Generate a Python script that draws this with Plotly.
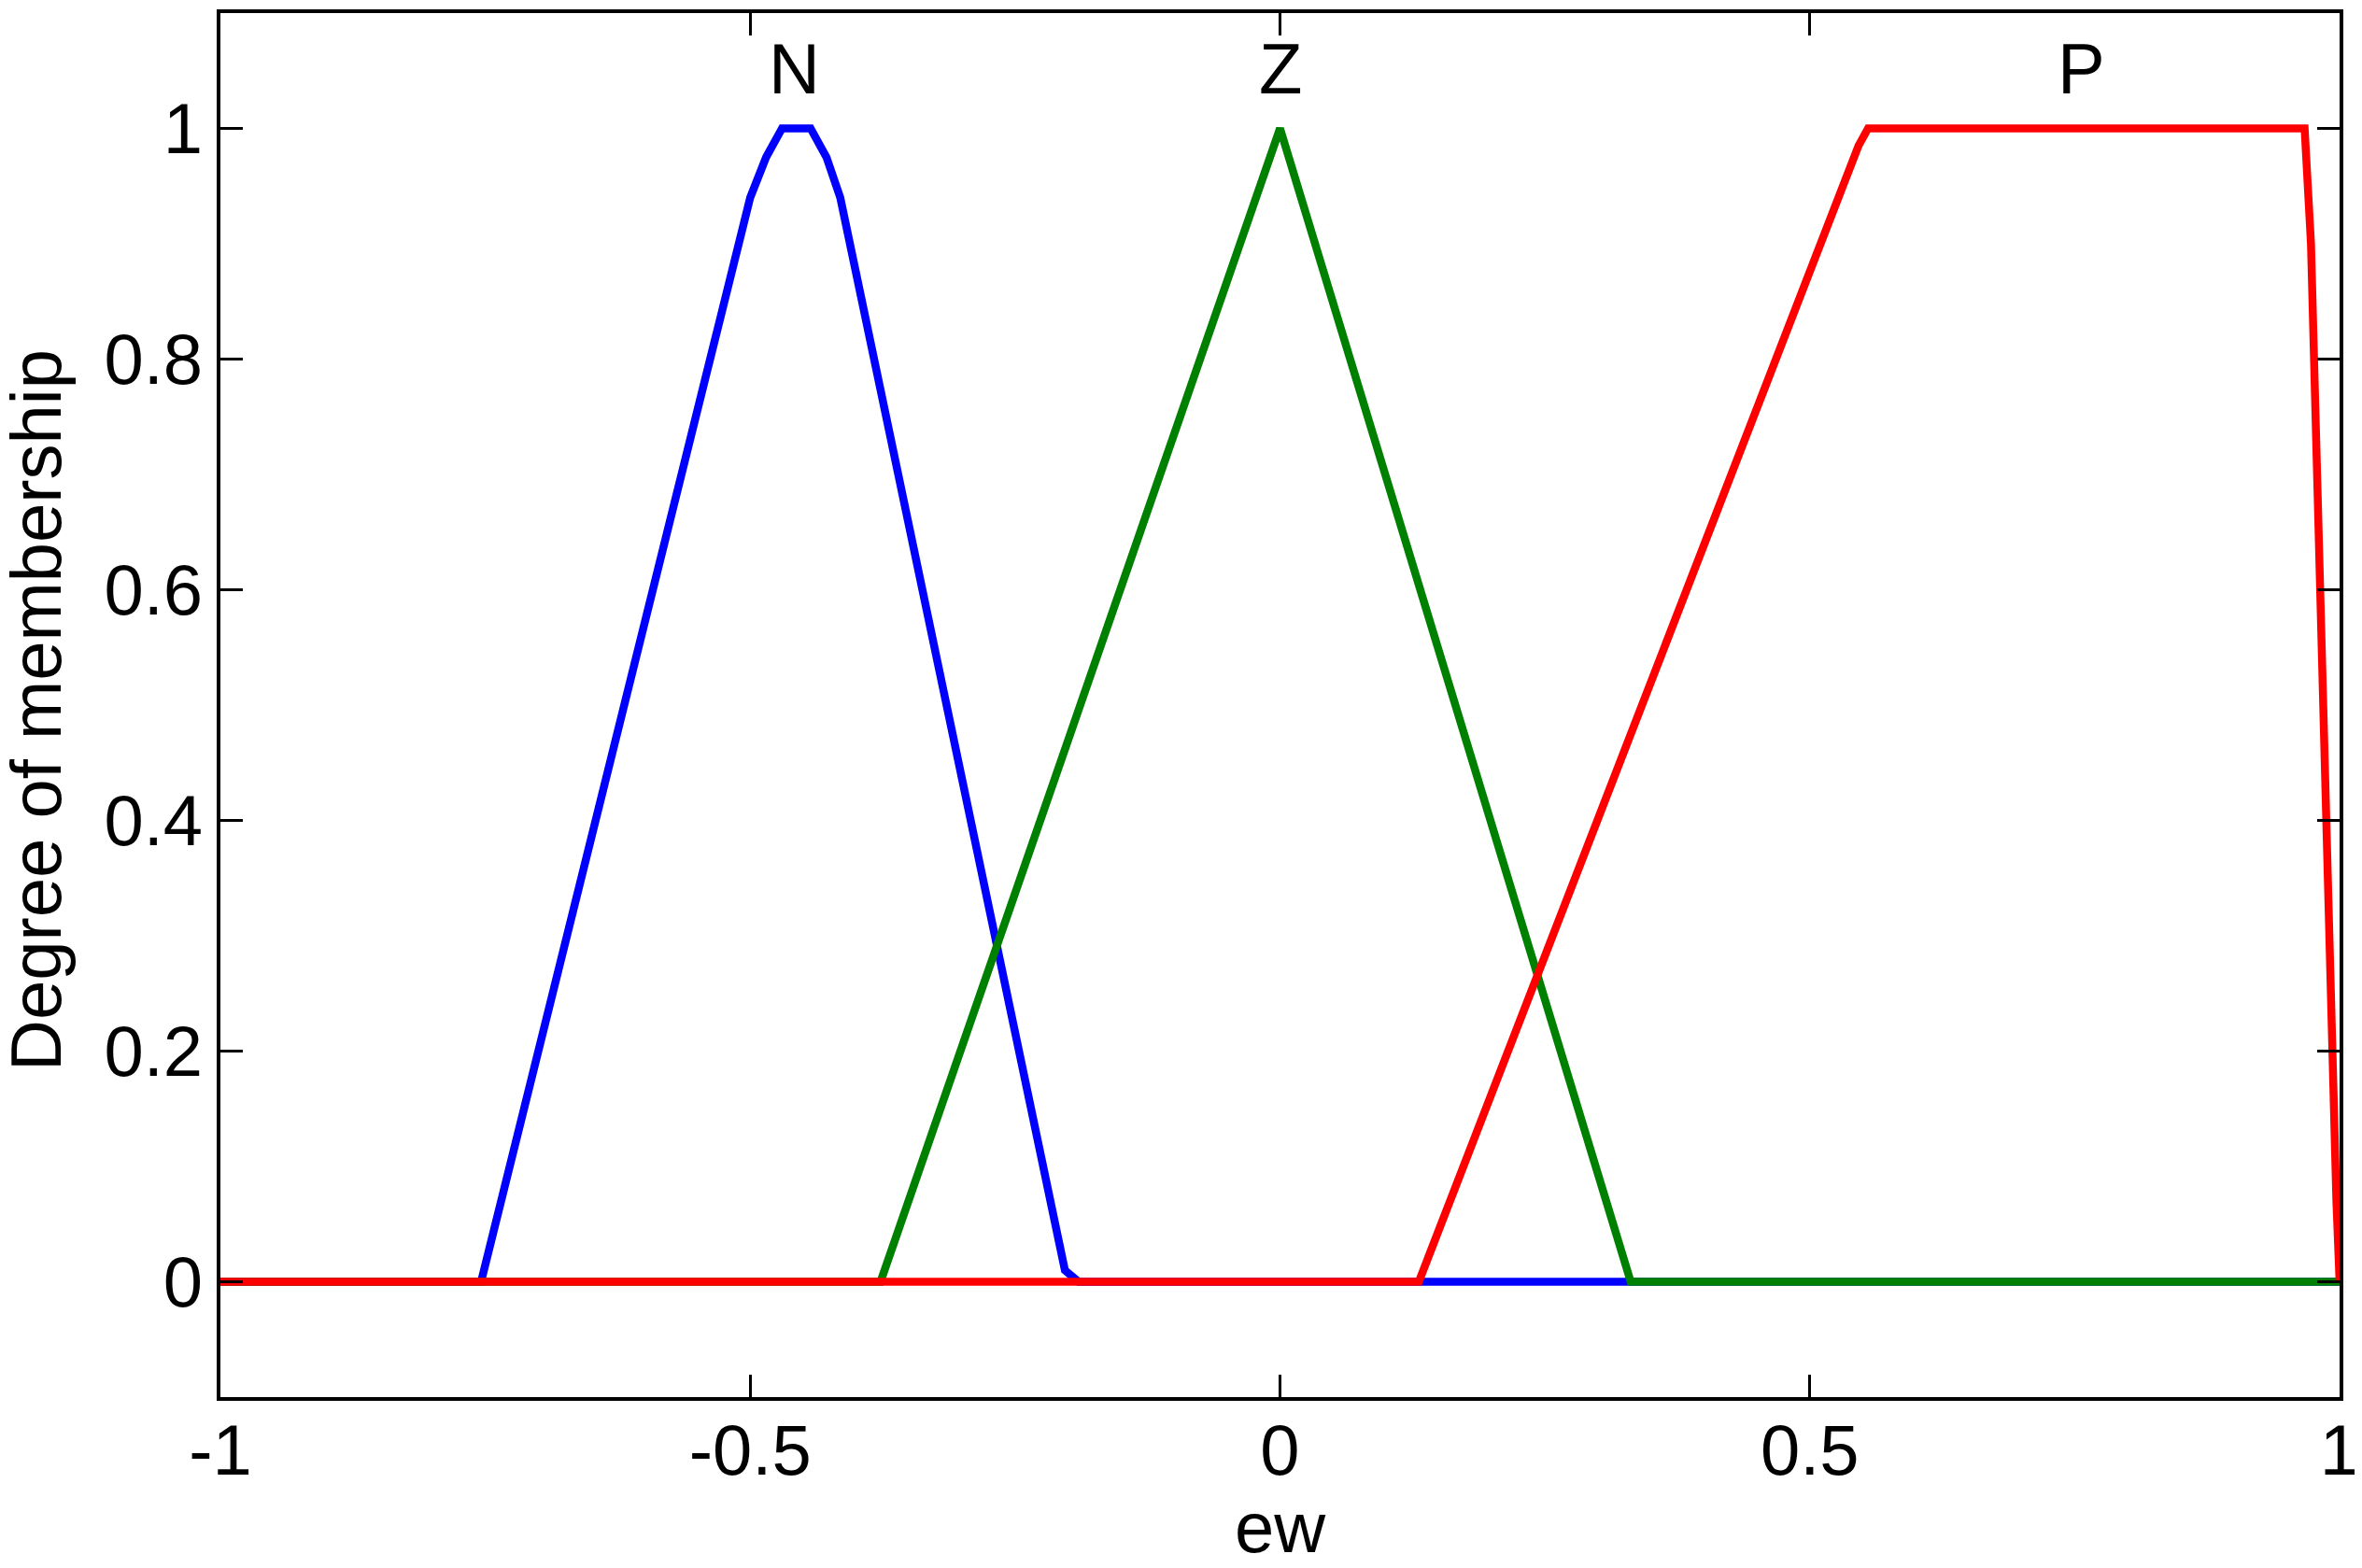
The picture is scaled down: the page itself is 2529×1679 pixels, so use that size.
import plotly.graph_objects as go

# Membership functions
n_x = [-1.0, -0.754, -0.50, -0.485, -0.470, -0.443, -0.428, -0.415, -0.203, -0.190, 1.0]
n_y = [0.0, 0.0, 0.94, 0.975, 1.0, 1.0, 0.975, 0.94, 0.01, 0.0, 0.0]

z_x = [-1.0, -0.377, 0.0, 0.331, 1.0]
z_y = [0.0, 0.0, 1.0, 0.0, 0.0]

p_x = [-1.0, 0.131, 0.546, 0.555, 0.967, 0.973, 0.997, 1.0]
p_y = [0.0, 0.0, 0.985, 1.0, 1.0, 0.90, 0.07, 0.0]

mf_names = ["N", "Z", "P"]
mf_label_x = [-0.4585, 0.0, 0.756]
mf_label_y = [1.052, 1.052, 1.052]

x_ticks = [-1, -0.5, 0, 0.5, 1]
x_tick_text = ["-1", "-0.5", "0", "0.5", "1"]
y_ticks = [0, 0.2, 0.4, 0.6, 0.8, 1]
y_tick_text = ["0", "0.2", "0.4", "0.6", "0.8", "1"]

x_title = "ew"
y_title = "Degree of membership"

FONT = "Liberation Sans, Arial, Helvetica, sans-serif"
LW = 8.5

fig = go.Figure()
fig.add_trace(go.Scatter(x=n_x, y=n_y, mode="lines", line=dict(color="#0000FF", width=LW), name="N"))
fig.add_trace(go.Scatter(x=z_x, y=z_y, mode="lines", line=dict(color="#008000", width=LW), name="Z"))
fig.add_trace(go.Scatter(x=p_x, y=p_y, mode="lines", line=dict(color="#FF0000", width=LW), name="P"))

for name, lx, ly in zip(mf_names, mf_label_x, mf_label_y):
    fig.add_annotation(x=lx, y=ly, text=name, showarrow=False, xanchor="center", yanchor="middle",
                       font=dict(family=FONT, size=76, color="black"))

# axis titles as annotations (placed close to the page edges like the original)
fig.add_annotation(xref="paper", yref="paper", x=0.5, y=0, yshift=-139, text=x_title,
                   showarrow=False, xanchor="center", yanchor="middle",
                   font=dict(family=FONT, size=76, color="black"))
fig.add_annotation(xref="paper", yref="paper", x=0, y=0.5, xshift=-198, yshift=-6, text=y_title,
                   textangle=-90, showarrow=False, xanchor="center", yanchor="middle",
                   font=dict(family=FONT, size=76, color="black"))

axis_common = dict(
    showline=True, linecolor="black", linewidth=3.5, mirror="ticks",
    ticks="inside", ticklen=24, tickwidth=2.5, tickcolor="black",
    showgrid=False, zeroline=False, ticklabeloverflow="allow",
    tickfont=dict(family=FONT, size=76, color="black"),
)

fig.update_xaxes(range=[-1, 1], tickvals=x_ticks, ticktext=x_tick_text,
                 ticklabelstandoff=-12, **axis_common)
fig.update_yaxes(range=[-0.1, 1.1], tickvals=y_ticks, ticktext=y_tick_text,
                 **axis_common)

# page body has an 8px margin; size the figure so it fits the window
fig.update_layout(
    width=2513, height=1663,
    margin=dict(l=228, r=16, t=6, b=175, autoexpand=False),
    paper_bgcolor="white", plot_bgcolor="white",
    showlegend=False,
)

fig.write_html("out.html")
